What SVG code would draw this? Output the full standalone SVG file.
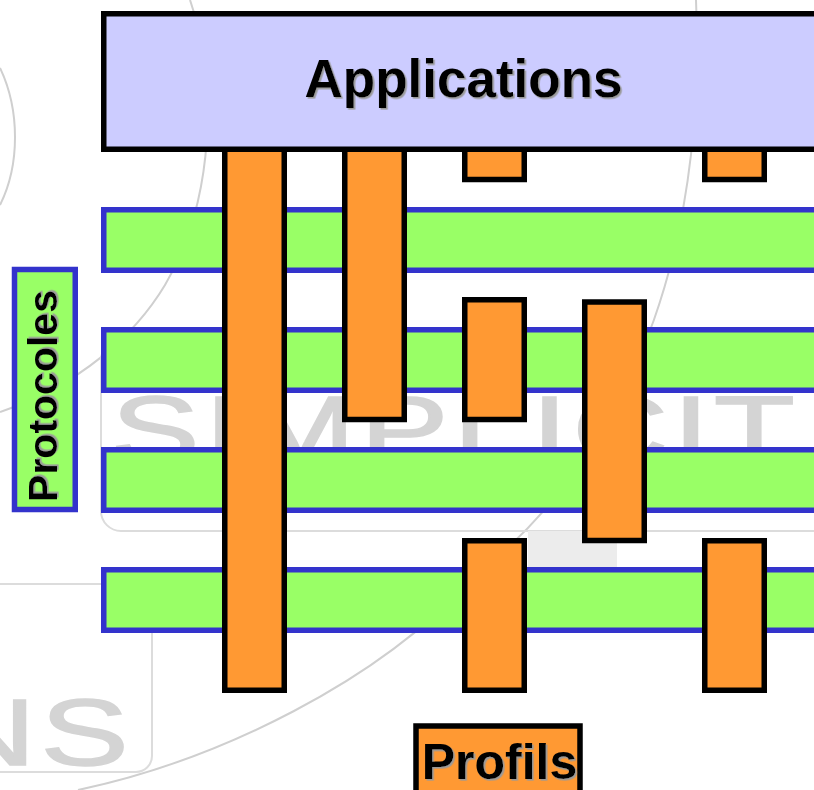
<svg xmlns="http://www.w3.org/2000/svg" width="814" height="790" viewBox="0 0 814 790">
  <defs>
    <style>
      .wm-line { fill: none; stroke: #cfcfcf; stroke-width: 2; }
      .wm-text { font-family: "Liberation Sans", Arial, sans-serif; font-size: 95px; fill: #d4d4d4; letter-spacing: 3px; }
      .proto { fill: #99FF66; stroke: #3333CC; stroke-width: 5.5; }
      .profil { fill: #FF9933; stroke: #000000; stroke-width: 5.5; }
      .app { fill: #CCCCFF; stroke: #000000; stroke-width: 5.5; }
      .label { font-family: "Liberation Sans", Arial, sans-serif; font-weight: bold; fill: #000000; filter: url(#shadow); }
    </style>
    <filter id="shadow" x="-10%" y="-20%" width="120%" height="140%">
      <feDropShadow dx="1.6" dy="1.6" stdDeviation="0.4" flood-color="#9a9a9a" flood-opacity="1"/>
    </filter>
  </defs>

  <rect x="0" y="0" width="814" height="790" fill="#ffffff"/>

  <!-- faint watermark background -->
  <g id="watermark">
    <path class="wm-line" d="M0,68 C20,110 20,165 0,205"/>
    <path class="wm-line" d="M190,0 C218,80 215,200 165,285 C135,335 80,385 0,412"/>
    <path class="wm-line" d="M696,0 C705,220 650,440 470,580 C380,680 220,760 78,790"/>
    <rect x="101" y="340" width="760" height="191" rx="20" fill="none" stroke="#dcdcdc" stroke-width="2"/>
    <rect x="-30" y="584" width="182" height="188" rx="16" fill="none" stroke="#dcdcdc" stroke-width="2"/>
    <rect x="528" y="531" width="89" height="36" fill="#ececec"/>
    <text class="wm-text" transform="translate(111,462) scale(1.4,1)" stroke="#d4d4d4" stroke-width="1.5">SIMPLICIT</text>
    <text class="wm-text" transform="translate(-60,765) scale(1.4,1)" stroke="#d4d4d4" stroke-width="1.5">NS</text>
  </g>

  <!-- protocol layers -->
  <g id="protocol-1"><rect class="proto" x="103.75" y="209.75" width="740" height="60.5"/></g>
  <g id="protocol-2"><rect class="proto" x="103.75" y="329.75" width="740" height="60.5"/></g>
  <g id="protocol-3"><rect class="proto" x="103.75" y="449.75" width="740" height="60.5"/></g>
  <g id="protocol-4"><rect class="proto" x="103.75" y="569.75" width="740" height="60.5"/></g>

  <!-- profile columns -->
  <g id="profile-1"><rect class="profil" x="224.75" y="140" width="59.5" height="550.25"/></g>
  <g id="profile-2"><rect class="profil" x="344.75" y="140" width="59.5" height="279.5"/></g>
  <g id="profile-3a"><rect class="profil" x="464.75" y="140" width="59.5" height="39.5"/></g>
  <g id="profile-3b"><rect class="profil" x="464.75" y="299.75" width="59.5" height="119.75"/></g>
  <g id="profile-3c"><rect class="profil" x="464.75" y="540.75" width="59.5" height="149.5"/></g>
  <g id="profile-4"><rect class="profil" x="584.75" y="302" width="59.5" height="238.5"/></g>
  <g id="profile-5a"><rect class="profil" x="704.75" y="140" width="59.5" height="39.5"/></g>
  <g id="profile-5b"><rect class="profil" x="704.75" y="540.75" width="59.5" height="149.5"/></g>

  <!-- applications -->
  <g id="applications">
    <rect class="app" x="103.75" y="13.75" width="740" height="135.5"/>
    <text class="label" x="463.5" y="97" font-size="53" text-anchor="middle">Applications</text>
  </g>

  <!-- protocoles label -->
  <g id="protocoles-label">
    <rect class="proto" x="14.5" y="269.5" width="60.75" height="240"/>
    <text class="label" transform="translate(57,396) rotate(-90)" font-size="41" text-anchor="middle">Protocoles</text>
  </g>

  <!-- profils label -->
  <g id="profils-label">
    <rect class="profil" x="416" y="726" width="164" height="80" stroke-width="6"/>
    <text class="label" x="499.5" y="779" font-size="50" text-anchor="middle">Profils</text>
  </g>
</svg>
